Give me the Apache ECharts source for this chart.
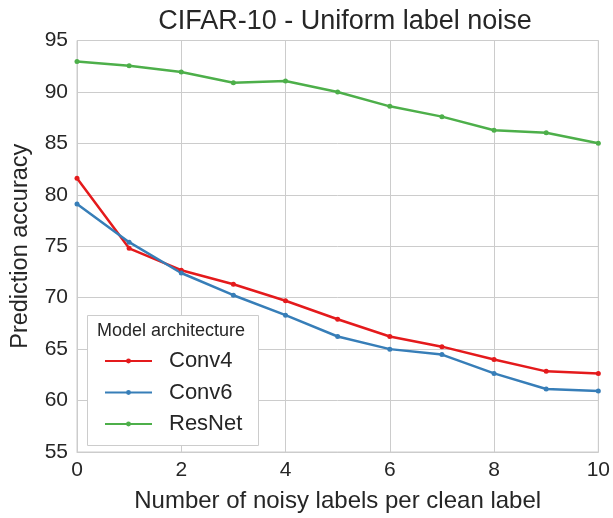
<!DOCTYPE html>
<html>
<head>
<meta charset="utf-8">
<script src="https://cdn.jsdelivr.net/npm/echarts@6/dist/echarts.min.js"></script>
<style>
  html, body { margin: 0; padding: 0; background: #fff; }
  #chart { width: 613px; height: 518px; }
</style>
</head>
<body>
<div id="chart"></div>
<script>
// noisy labels per clean label
const xValues = [0, 1, 2, 3, 4, 5, 6, 7, 8, 9, 10];
const conv4 = [81.6, 74.8, 72.67, 71.3, 69.7, 67.9, 66.23, 65.24, 63.99, 62.84, 62.64];
const conv6 = [79.1, 75.4, 72.4, 70.24, 68.3, 66.23, 65.0, 64.47, 62.64, 61.13, 60.94];
const resnet = [92.96, 92.55, 91.94, 90.9, 91.07, 90.0, 88.6, 87.6, 86.27, 86.04, 85.02];
const seriesNames = ['Conv4', 'Conv6', 'ResNet'];

const font = '"Liberation Sans", Arial, sans-serif';
const textColor = '#262626';
const gridColor = '#cccccc';

const toPairs = (vals) => xValues.map((x, i) => [x, vals[i]]);

const makeSeries = (name, vals, color) => ({
  name: name,
  type: 'line',
  data: toPairs(vals),
  symbol: 'circle',
  symbolSize: 5,
  lineStyle: { width: 2.5, color: color },
  itemStyle: { color: color },
  emphasis: { disabled: true },
});

const chart = echarts.init(document.getElementById('chart'));

const option = {
  animation: false,
  textStyle: { fontFamily: font },
  title: {
    text: 'CIFAR-10 - Uniform label noise',
    left: 340,
    textAlign: 'center',
    top: 3,
    textStyle: { fontFamily: font, fontSize: 27, fontWeight: 'normal', color: textColor },
  },
  grid: {
    left: 77,
    right: 13,
    top: 40.5,
    bottom: 61.5,
    show: true,
    borderColor: gridColor,
    borderWidth: 1,
  },
  xAxis: {
    type: 'value',
    min: 0,
    max: 10,
    interval: 2,
    name: 'Number of noisy labels per clean label',
    nameLocation: 'middle',
    nameGap: 37,
    nameTextStyle: { fontFamily: font, fontSize: 24, color: textColor },
    axisLine: { lineStyle: { color: gridColor } },
    axisTick: { show: false },
    axisLabel: { fontFamily: font, fontSize: 21, color: textColor, margin: 8 },
    splitLine: { lineStyle: { color: gridColor, width: 1 } },
  },
  yAxis: {
    type: 'value',
    min: 55,
    max: 95,
    interval: 5,
    name: 'Prediction accuracy',
    nameLocation: 'middle',
    nameGap: 44,
    nameTextStyle: { fontFamily: font, fontSize: 23.5, color: textColor },
    axisLine: { show: true, lineStyle: { color: gridColor } },
    axisTick: { show: false },
    axisLabel: { fontFamily: font, fontSize: 21, color: textColor, margin: 9 },
    splitLine: { lineStyle: { color: gridColor, width: 1 } },
  },
  legend: {
    data: seriesNames,
    orient: 'vertical',
    left: 99,
    top: 345,
    z: 10,
    itemWidth: 47,
    itemHeight: 6,
    itemGap: 9.5,
    textStyle: { fontFamily: font, fontSize: 22, color: textColor, padding: [0, 0, 0, 12] },
  },
  graphic: [
    {
      type: 'rect',
      left: 87,
      top: 315,
      z: 5,
      shape: { width: 171, height: 130 },
      style: { fill: '#ffffff', stroke: gridColor, lineWidth: 1 },
    },
    {
      type: 'text',
      left: 97,
      top: 322,
      z: 11,
      style: { text: 'Model architecture', fontFamily: font, fontSize: 18, fill: textColor },
    },
  ],
  series: [
    makeSeries('Conv4', conv4, '#e41a1c'),
    makeSeries('Conv6', conv6, '#377eb8'),
    makeSeries('ResNet', resnet, '#4daf4a'),
  ],
};

chart.setOption(option);
</script>
</body>
</html>
